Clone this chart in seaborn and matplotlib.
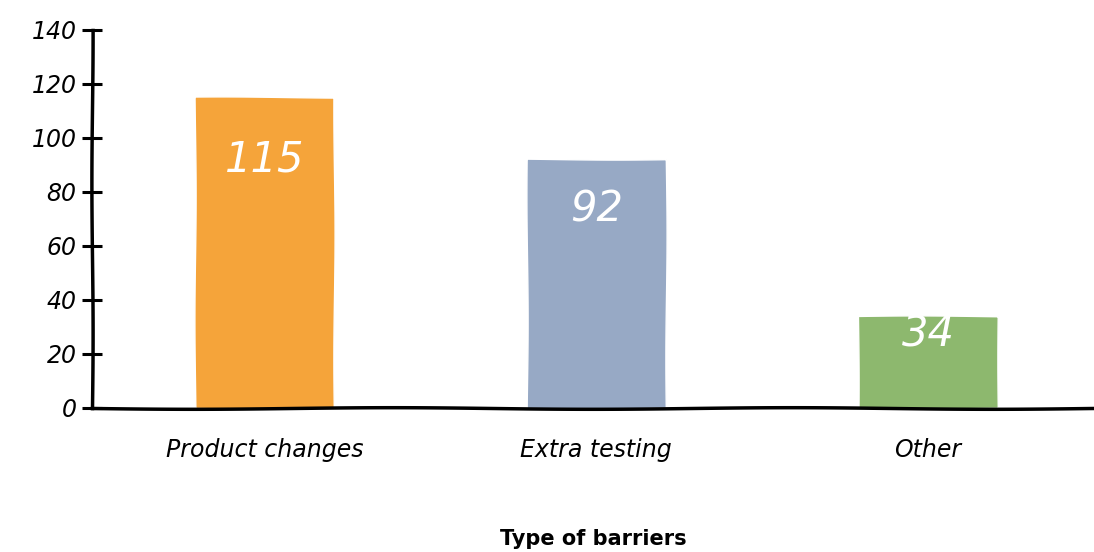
import pandas as pd
import numpy as np
import seaborn as sns
import matplotlib.pyplot as plt

categories = ['Product changes', 'Extra testing', 'Other']
counts = [115, 92, 34]
colors = ['#F5A43A', '#97A9C5', '#8DB86E']
yticks = [0, 20, 40, 60, 80, 100, 120, 140]

df = pd.DataFrame({'barrier': categories, 'count': counts})

sns.set_style('white')
plt.rcParams['font.family'] = ['DejaVu Sans']
plt.rcParams['text.color'] = 'black'
plt.rcParams['xtick.color'] = 'black'
plt.rcParams['ytick.color'] = 'black'

fig = plt.figure(figsize=(10.94, 5.52), dpi=100)
ax = fig.add_axes([0.084, 0.261, 0.916, 0.685])

# slight wobble so it looks hand drawn
with plt.rc_context({'path.sketch': (0.6, 250, 1)}):
    sns.barplot(data=df, x='barrier', y='count', hue='barrier', palette=colors,
                width=0.42, saturation=1, legend=False, ax=ax)

for i, v in enumerate(counts):
    ax.text(i, v * 0.8, str(v), ha='center', va='center', color='white',
            fontsize=30, fontstyle='italic')

ax.set_xlim(-0.52, 2.5)
ax.set_ylim(0, 140)
ax.set_yticks(yticks)
ax.set_yticklabels([str(t) for t in yticks], fontsize=17, fontstyle='italic')
ax.tick_params(axis='y', left=True, direction='inout', length=14, width=2.2,
               pad=4, colors='black')
ax.tick_params(axis='x', length=0, pad=22, labelsize=17, colors='black')
for lbl in ax.get_xticklabels():
    lbl.set_fontstyle('italic')

sns.despine(ax=ax, top=True, right=True)
for side in ['left', 'bottom']:
    ax.spines[side].set_linewidth(2.5)
    ax.spines[side].set_color('black')
ax.spines['left'].set_sketch_params(0.6, 300, 1)
ax.spines['bottom'].set_sketch_params(0.8, 400, 1)

ax.set_ylabel('')
ax.set_xlabel('Type of barriers', fontsize=15, fontweight='bold', labelpad=48,
              color='black')

fig.savefig('out.png', dpi=100)
